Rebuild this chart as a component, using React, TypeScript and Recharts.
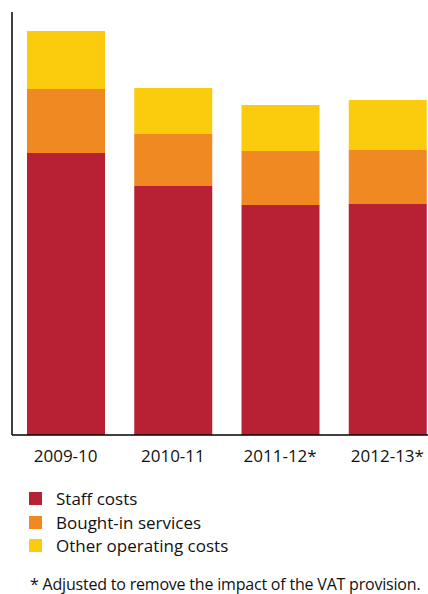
import { Bar, BarChart, XAxis, YAxis } from 'recharts';

const years = ['2009-10', '2010-11', '2011-12*', '2012-13*'];
const staffCosts = [70.5, 62.25, 57.5, 57.75];
const boughtIn = [16, 13, 13.5, 13.5];
const otherCosts = [14.5, 11.5, 11.5, 12.5];

const series = [
  { key: 'staff', name: 'Staff costs', color: '#B82034' },
  { key: 'bought', name: 'Bought-in services', color: '#F08921' },
  { key: 'other', name: 'Other operating costs', color: '#FBCB0E' },
];

const data = years.map((year, i) => ({
  year,
  staff: staffCosts[i],
  bought: boughtIn[i],
  other: otherCosts[i],
}));

const font = '"Open Sans", sans-serif';

export default function App() {
  return (
    <div
      style={{
        position: 'absolute',
        left: 0,
        top: 0,
        width: 428,
        height: 594,
        overflow: 'hidden',
        fontFamily: font,
        color: '#111',
      }}
    >
      <BarChart
        width={441}
        height={594}
        data={data}
        margin={{ top: 12, right: 0, bottom: 129, left: 11 }}
        barSize={78}
      >
        <YAxis
          width={1}
          domain={[0, 105.75]}
          tick={false}
          tickLine={false}
          axisLine={{ stroke: '#000', strokeWidth: 1.5 }}
        />
        <XAxis
          dataKey="year"
          height={30}
          tickLine={false}
          tickMargin={9}
          axisLine={{ stroke: '#000', strokeWidth: 1.5 }}
          tick={{ fontSize: 17, fill: '#111', fontFamily: font }}
        />
        {series.map((s) => (
          <Bar
            key={s.key}
            dataKey={s.key}
            name={s.name}
            stackId="a"
            fill={s.color}
            isAnimationActive={false}
          />
        ))}
      </BarChart>
      <div style={{ position: 'absolute', left: 29, top: 487 }}>
        {series.map((s) => (
          <div
            key={s.key}
            style={{ display: 'flex', alignItems: 'center', height: 23.5, fontSize: 17 }}
          >
            <span style={{ width: 13, height: 13, background: s.color, marginRight: 14 }} />
            <span>{s.name}</span>
          </div>
        ))}
      </div>
      <div
        style={{
          position: 'absolute',
          left: 30,
          top: 573,
          fontSize: 16,
          letterSpacing: -0.2,
          whiteSpace: 'nowrap',
        }}
      >
        * Adjusted to remove the impact of the VAT provision.
      </div>
    </div>
  );
}
